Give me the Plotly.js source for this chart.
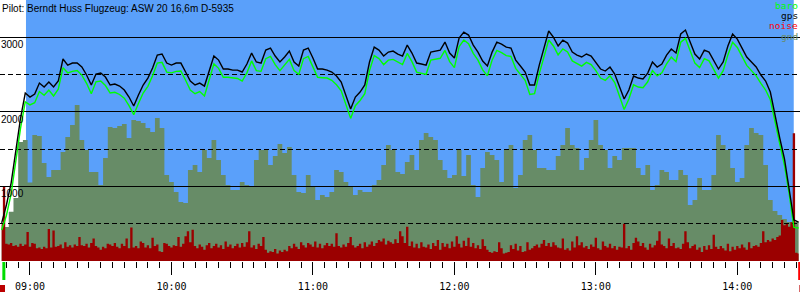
<!DOCTYPE html>
<html>
<head>
<meta charset="utf-8">
<script src="https://cdn.plot.ly/plotly-3.0.1.min.js"></script>
<style>
html,body{margin:0;padding:0;background:#fff;}
#chart{width:800px;height:300px;}
#chart .scatterlayer .trace:nth-child(n+3):nth-child(-n+8) path.js-line{shape-rendering:crispEdges;}
#chart .xtick, #chart .xaxislayer-above path{shape-rendering:crispEdges;}
</style>
</head>
<body>
<div id="chart"></div>
<script>
// ---- chart text ----
const titleText = 'Pilot: Berndt Huss Flugzeug: ASW 20 16,6m D-5935';
const legendNames = ['baro', 'gps', 'noise', 'gnd'];
const yTickVals = [1000, 2000, 3000];
const gridVals = [500, 1000, 1500, 2000, 2500, 3000];

// ---- time frame ----
const axisStart = '2000-01-01 08:47:17';
const axisEnd = '2000-01-01 14:26:35';
const flightStart = '2000-01-01 08:58:18';
const flightEnd = '2000-01-01 14:23:56';
const takeoffMark = '2000-01-01 08:48:55';
const landingMark = '2000-01-01 14:26:27';
const seriesStart = Date.UTC(2000, 0, 1, 8, 48, 0);
const lineStepMin = 2;   // baro, gps, gnd sampled every 2 min
const noiseStepMin = 1;  // noise sampled every minute

// ---- series values (m) ----
const gps = [510,750,1044,1460,1915,2250,2196,2236,2383,2330,2397,2330,2410,2705,2624,2651,2651,2598,2491,2357,
2504,2517,2464,2357,2370,2343,2290,2196,2076,2223,2357,2450,2584,2758,2772,2651,2624,2651,2651,2531,
2410,2357,2383,2343,2557,2745,2691,2571,2571,2557,2557,2531,2638,2785,2665,2651,2825,2852,2745,2665,
2732,2812,2665,2611,2825,2852,2718,2571,2571,2557,2531,2477,2397,2223,2035,2196,2263,2357,2665,2865,
2825,2745,2798,2812,2772,2745,2892,2785,2651,2638,2624,2798,2812,2825,2932,2785,2718,2986,3066,3026,
2892,2798,2678,2611,2798,2932,2905,2865,2852,2691,2611,2531,2357,2357,2624,2865,3080,2999,2879,2959,
2919,2798,2758,2732,2772,2745,2665,2571,2544,2598,2504,2343,2169,2290,2477,2450,2437,2517,2665,2598,
2638,2758,2839,2785,3040,3093,2919,2772,2705,2825,2798,2691,2571,2665,2879,3040,2972,2852,2732,2665,
2598,2491,2410,2263,1928,1647,1366,977,549,522];

const baro = [415,610,900,1320,1780,2130,2090,2120,2270,2220,2290,2210,2300,2590,2520,2540,2550,2490,2380,2240,
2400,2410,2350,2250,2260,2230,2180,2080,1960,2110,2250,2340,2480,2650,2660,2530,2520,2540,2545,2420,
2290,2240,2270,2210,2440,2640,2580,2460,2460,2450,2445,2410,2520,2680,2550,2540,2710,2740,2630,2550,
2620,2700,2550,2500,2710,2740,2600,2460,2455,2450,2420,2360,2280,2100,1910,2080,2150,2240,2550,2750,
2710,2630,2690,2700,2660,2630,2780,2670,2530,2520,2500,2690,2700,2715,2820,2670,2590,2870,2960,2910,
2780,2690,2560,2480,2690,2820,2790,2750,2740,2580,2500,2420,2230,2240,2510,2750,2960,2880,2760,2840,
2800,2680,2640,2610,2660,2630,2550,2450,2420,2480,2390,2220,2030,2170,2360,2330,2320,2400,2550,2480,
2520,2640,2730,2670,2930,2980,2800,2650,2590,2710,2680,2570,2450,2550,2760,2930,2860,2740,2620,2550,
2480,2380,2290,2160,1840,1570,1280,900,450,442];

const gnd = [482,455,660,844,1593,1620,1050,1687,1674,1312,1125,1218,1218,1460,1660,1821,2089,1620,1486,1192,
1192,1018,1379,1794,1781,1808,1834,1647,1888,1875,1848,1781,1727,1915,1781,1152,1058,924,790,777,
1218,1285,1192,1486,1379,1620,1352,1152,1018,951,951,1058,1018,1004,1352,1486,1486,1285,1406,1567,
1446,1527,1152,924,911,1152,991,817,884,857,924,1218,1192,1058,991,884,951,924,924,1018,
1085,1285,1553,1486,1192,1165,1325,1419,1218,1620,1714,1660,1620,1352,1218,1111,1152,1486,1138,1419,
1018,857,1245,1460,1419,1352,1058,1486,1553,977,1152,1620,1687,1486,1245,1245,1218,1218,1406,1553,
1781,1553,1513,1218,1379,1620,1888,1553,1486,1245,1406,1352,1513,1513,1513,1245,1152,1285,951,1018,
1218,1192,1085,1085,1218,1152,750,817,1111,951,951,1152,1687,1553,1486,1245,1058,1111,1553,1781,
1714,1687,1285,817,670,616,562,522,522,522];

const noise = [500,1000,230,220,240,200,210,190,230,200,220,390,190,240,230,170,180,160,190,170,
430,180,410,190,200,220,170,250,190,210,180,220,200,320,210,200,230,180,240,300,
200,180,150,190,170,230,220,200,240,190,170,230,200,300,170,450,180,200,170,260,
240,180,210,170,310,200,220,130,120,240,230,200,180,210,200,320,190,230,330,400,
250,420,200,170,220,190,150,210,240,170,200,230,180,210,160,260,190,220,170,200,
230,180,240,190,250,400,180,210,160,230,200,320,150,110,130,120,160,100,140,120,
150,130,200,170,230,190,160,250,210,180,240,220,190,260,180,230,170,210,240,200,
230,190,370,200,180,220,190,240,320,210,180,200,230,170,250,190,220,260,200,240,
280,260,300,220,270,250,230,290,240,400,330,240,460,200,260,180,230,170,250,190,
180,220,160,240,200,280,150,240,190,230,170,260,190,330,230,180,270,200,310,190,
240,170,210,160,290,200,150,120,110,130,120,250,170,100,110,120,210,160,230,140,
200,120,130,250,150,170,200,220,180,230,280,200,240,190,250,210,180,170,300,150,
170,140,260,180,330,210,250,180,200,160,220,190,310,170,150,260,200,180,230,170,
200,150,190,180,500,170,200,150,240,310,260,200,240,180,150,230,180,210,270,400,
220,200,170,300,200,240,170,180,160,230,400,250,170,200,220,150,180,120,200,150,
210,160,350,190,160,200,170,140,230,130,190,150,200,170,220,180,150,250,170,200,
210,190,240,400,250,280,260,300,280,320,340,550,480,500,460,520,1710,110,100];

// ---- styles ----
const C = {
  sky: 'rgb(90,160,250)', gnd: 'rgb(103,140,103)', noise: 'rgb(155,0,0)',
  baro: '#00ff00', gps: '#000000', noiseText: '#ff0000'
};

function timeGrid(n, stepMin) {
  const out = [];
  for (let i = 0; i < n; i++) {
    out.push(new Date(seriesStart + i * stepMin * 60000).toISOString().replace('T', ' ').slice(0, 19));
  }
  return out;
}
const tLine = timeGrid(gps.length, lineStepMin);
const tNoise = timeGrid(noise.length, noiseStepMin);

const traces = [];
traces.push({x: tLine, y: gnd, type: 'scatter', mode: 'lines', line: {shape: 'hvh', width: 0, color: C.gnd},
  fill: 'tozeroy', fillcolor: C.gnd, hoverinfo: 'skip', showlegend: false});
traces.push({x: tNoise, y: noise, type: 'scatter', mode: 'lines', line: {shape: 'hvh', width: 0, color: C.noise},
  fill: 'tozeroy', fillcolor: C.noise, hoverinfo: 'skip', showlegend: false});
gridVals.forEach(v => {
  traces.push({x: [axisStart, axisEnd], y: [v, v], type: 'scatter', mode: 'lines',
    line: {color: '#000', width: 1, dash: v % 1000 ? '5px,3px' : 'solid'}, hoverinfo: 'skip', showlegend: false});
});
traces.push({x: tLine, y: baro, type: 'scatter', mode: 'lines', line: {color: C.baro, width: 1.4}, showlegend: false});
traces.push({x: tLine, y: gps, type: 'scatter', mode: 'lines', line: {color: C.gps, width: 1.4}, showlegend: false});

const PLOT_H = 261;
const py = px => 1 - px / PLOT_H;

const annotations = [];
annotations.push({text: titleText, xref: 'paper', yref: 'paper', x: 0, y: 1, xanchor: 'left', yanchor: 'top',
  yshift: -1, showarrow: false, font: {family: 'Liberation Sans, Arial, sans-serif', size: 10, color: '#000'}});
yTickVals.forEach(v => annotations.push({text: String(v), xref: 'paper', yref: 'y', x: 0, y: v,
  xanchor: 'left', yanchor: 'top', xshift: -1, yshift: 0, showarrow: false,
  font: {family: 'Liberation Sans, Arial, sans-serif', size: 10, color: '#000'}}));
const legendColors = [C.baro, C.gps, C.noiseText, C.gnd];
legendNames.forEach((n, i) => annotations.push({text: n, xref: 'paper', yref: 'paper', x: 1, y: py(6 + 10 * i),
  xanchor: 'right', yanchor: 'middle', xshift: 0, showarrow: false,
  font: {family: 'DejaVu Sans Mono, monospace', size: 9.5, color: legendColors[i]}}));

const shapes = [
  {type: 'rect', layer: 'below', xref: 'x', yref: 'paper', x0: flightStart, x1: flightEnd, y0: 0, y1: 1,
   fillcolor: C.sky, line: {width: 0}},
  {type: 'line', xref: 'x', yref: 'paper', x0: takeoffMark, x1: takeoffMark, y0: py(262), y1: py(280),
   line: {color: '#00dd00', width: 3}},
  {type: 'rect', xref: 'x', yref: 'paper', x0: axisStart, x1: '2000-01-01 08:49:24', y0: py(285), y1: py(292),
   fillcolor: '#bb0000', line: {width: 0}},
  {type: 'line', xref: 'x', yref: 'paper', x0: landingMark, x1: landingMark, y0: py(262), y1: py(280),
   line: {color: '#ff0000', width: 3}},
  {type: 'rect', xref: 'x', yref: 'paper', x0: '2000-01-01 14:26:20', x1: axisEnd, y0: py(285), y1: py(292),
   fillcolor: '#bb0000', line: {width: 0}}
];

const layout = {
  width: 800, height: 300,
  margin: {l: 0, r: 0, t: 0, b: 300 - PLOT_H, pad: 0},
  paper_bgcolor: '#fff', plot_bgcolor: '#fff',
  showlegend: false,
  xaxis: {type: 'date', range: [axisStart, axisEnd], showgrid: false, zeroline: false, showline: false,
    ticks: 'outside', ticklen: 13, tickwidth: 1, tickcolor: '#000', ticklabelstandoff: 3,
    tick0: '2000-01-01 09:00:00', dtick: 3600000, tickformat: '%H:%M',
    tickfont: {family: 'DejaVu Sans Mono, monospace', size: 10, color: '#000'},
    minor: {tick0: '2000-01-01 09:00:00', dtick: 300000, ticks: 'outside', ticklen: 6, tickwidth: 1,
      tickcolor: '#000', showgrid: false},
    fixedrange: true},
  yaxis: {range: [0, 3495.5], showgrid: false, zeroline: false, showline: false, showticklabels: false,
    ticks: '', fixedrange: true},
  annotations: annotations,
  shapes: shapes
};

Plotly.newPlot('chart', traces, layout, {displayModeBar: false, staticPlot: true});
</script>
</body>
</html>
